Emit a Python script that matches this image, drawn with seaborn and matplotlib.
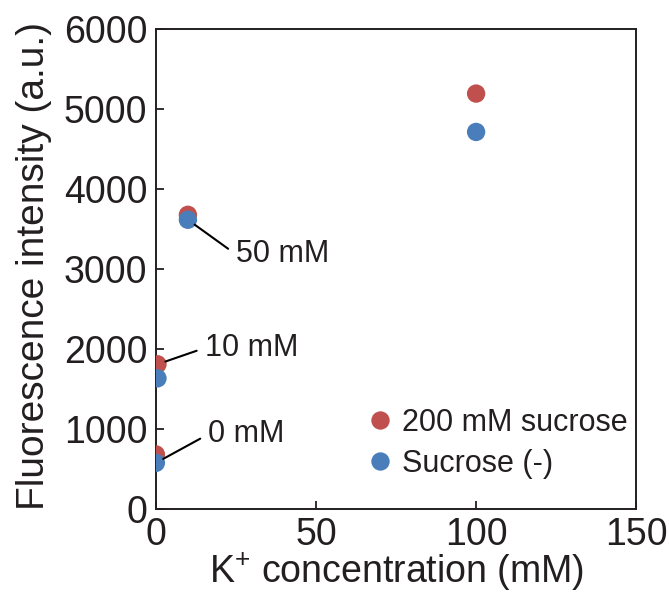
import matplotlib
matplotlib.use("Agg")
import matplotlib.pyplot as plt
import seaborn as sns
import pandas as pd

# Data
k_conc = [0, 0.5, 10, 100]
sucrose_200 = [677, 1805, 3675, 5192]
sucrose_none = [571, 1629, 3613, 4712]
series_names = ["200 mM sucrose", "Sucrose (-)"]
colors = ["#C0504D", "#4A7EBB"]
annot_labels = ["0 mM", "10 mM", "50 mM"]
annot_points = [(0, 571), (0.5, 1805), (10, 3613)]
annot_text = [(16.4, 930), (15.4, 2011), (25.0, 3180)]
xticks = [0, 50, 100, 150]
yticks = [0, 1000, 2000, 3000, 4000, 5000, 6000]

df = pd.DataFrame({
    "x": k_conc * 2,
    "y": sucrose_200 + sucrose_none,
    "series": [series_names[0]] * len(k_conc) + [series_names[1]] * len(k_conc),
})

sns.set_style("ticks")
plt.rcParams["font.family"] = ["Liberation Sans", "DejaVu Sans"]
plt.rcParams["mathtext.fontset"] = "custom"
plt.rcParams["mathtext.rm"] = "Liberation Sans"
plt.rcParams["mathtext.it"] = "Liberation Sans"
plt.rcParams["mathtext.bf"] = "Liberation Sans"
ink = "#231F20"

fig = plt.figure(figsize=(6.69, 5.92), dpi=100)
ax = fig.add_axes([0.233, 0.141, 0.718, 0.810])

sns.scatterplot(data=df, x="x", y="y", hue="series", palette=colors,
                s=175, edgecolor="none", linewidth=0, ax=ax, zorder=3)

for lab, pt, tx in zip(annot_labels, annot_points, annot_text):
    ax.annotate(lab, xy=pt, xytext=tx, ha="left", va="center",
                fontsize=22, color=ink,
                arrowprops=dict(arrowstyle="-", color="black", lw=1.5,
                                shrinkA=4, shrinkB=6, relpos=(0, 0.5)))

ax.set_xlim(0, 150)
ax.set_ylim(0, 6000)
ax.set_xticks(xticks)
ax.set_yticks(yticks)
ax.tick_params(direction="in", length=6, width=1.3, colors=ink,
               labelsize=27, pad=6)
for sp in ax.spines.values():
    sp.set_visible(True)
    sp.set_color(ink)
    sp.set_linewidth(1.4)

ax.set_xlabel("K$^{+}$ concentration (mM)", fontsize=27, color=ink, labelpad=-1.5)
ax.set_ylabel("Fluorescence intensity (a.u.)", fontsize=28, color=ink, labelpad=9)
ax.yaxis.label.set_y(0.505)

leg = ax.legend(loc="lower right", bbox_to_anchor=(1.02, 0.024), frameon=False,
                fontsize=22, handletextpad=0.0, handlelength=1.4,
                labelspacing=0.36, markerscale=1.0, borderaxespad=0.2)
for t in leg.get_texts():
    t.set_color(ink)

fig.savefig("out.png", dpi=100)
